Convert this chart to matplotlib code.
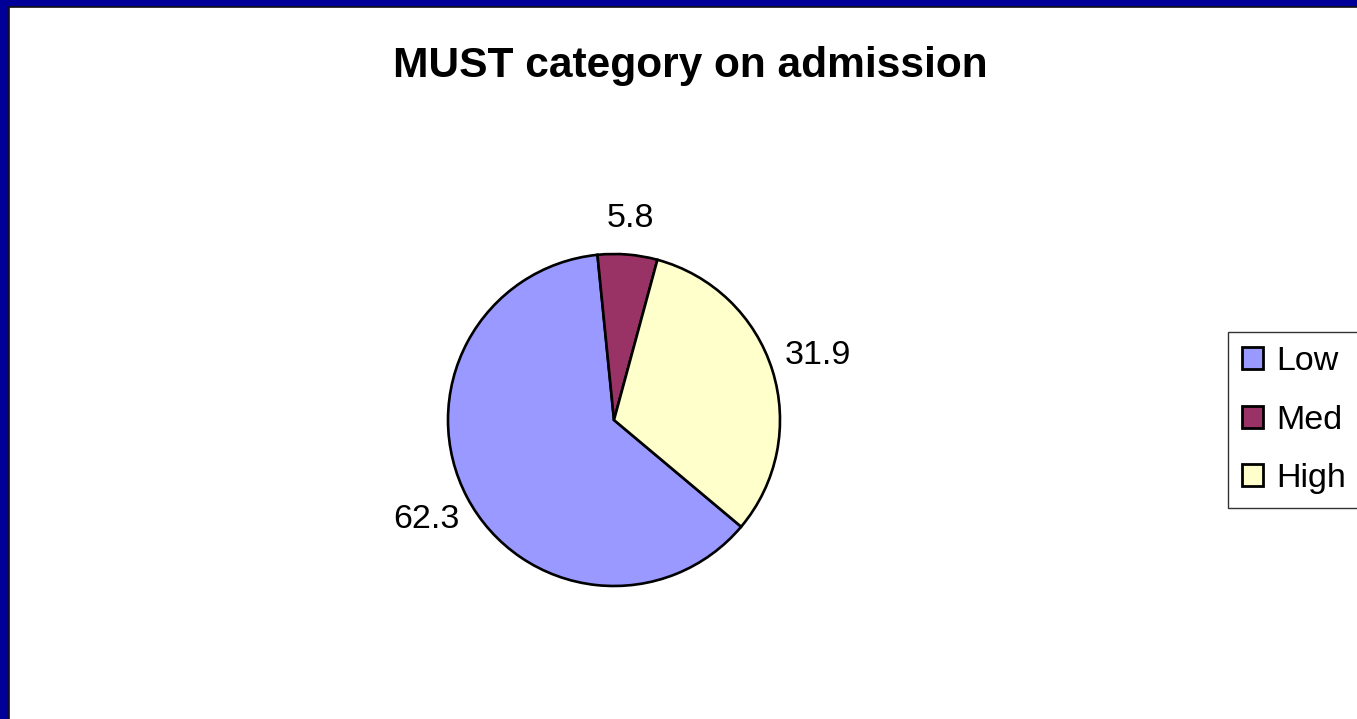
import matplotlib
matplotlib.use("Agg")
import matplotlib.pyplot as plt
from matplotlib.patches import Rectangle
import numpy as np

# MUST screening category on admission (% of patients)
categories = ["Low", "Med", "High"]
percentages = [62.3, 5.8, 31.9]
colours = ["#9999FF", "#993366", "#FFFFCC"]
title = "MUST category on admission"

W, H = 1357, 719
fig = plt.figure(figsize=(W / 100, H / 100), dpi=100, facecolor="#000099")

# white chart area with a thin dark frame, running off the right/bottom edge
fig.patches.append(Rectangle((8.5 / W, -0.1), 1.2, 1 - 6.5 / H + 0.1,
                             transform=fig.transFigure, facecolor="white",
                             edgecolor="#111111", linewidth=1.2, zorder=-5))

# pie centred at (614, 420) px, radius 166 px
cx, cy, r = 614, 420, 166
half = 215
ax = fig.add_axes([(cx - half) / W, (H - cy - half) / H, 2 * half / W, 2 * half / H])
wedges, _ = ax.pie(percentages, colors=colours, startangle=-40, counterclock=False,
                   wedgeprops=dict(edgecolor="black", linewidth=1.9))
lim = half / r
ax.set_xlim(-lim, lim)
ax.set_ylim(-lim, lim)
ax.axis("off")

label_dist = [1.28, 1.215, 1.29]
for w, val, d in zip(wedges, percentages, label_dist):
    mid = np.deg2rad((w.theta1 + w.theta2) / 2)
    ax.text(d * np.cos(mid), d * np.sin(mid), f"{val:.1f}", ha="center", va="center",
            fontsize=24.5, family="Liberation Sans", color="black")

fig.text(690 / W, 1 - 77 / H, title, ha="center", va="baseline",
         fontsize=30.6, fontweight="bold", family="Liberation Sans")

leg = fig.legend(wedges, categories, loc="upper left",
                 bbox_to_anchor=(1228 / W, 1 - 332 / H), bbox_transform=fig.transFigure,
                 borderaxespad=0, frameon=True, fancybox=False,
                 prop={"family": "Liberation Sans", "size": 24.5},
                 handlelength=0.62, handleheight=0.62, handletextpad=0.38,
                 labelspacing=0.8, borderpad=0.42)
leg.get_frame().set_edgecolor("black")
leg.get_frame().set_linewidth(1.0)
for h in leg.legend_handles:
    h.set_linewidth(2.0)

fig.savefig("out.png", dpi=100, facecolor=fig.get_facecolor())
